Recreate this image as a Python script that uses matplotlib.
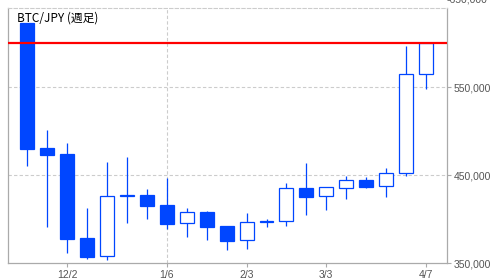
import matplotlib
matplotlib.use("Agg")
import matplotlib.pyplot as plt
from matplotlib.transforms import blended_transform_factory

# weekly BTC/JPY candles
opens  = [622700, 481000, 474500, 378700, 358000, 426500, 427600, 416300, 395500, 408600, 392400,
          376500, 398400, 397700, 435200, 426100, 435200, 444300, 437500, 452300, 564800]
highs  = [622700, 501500, 486700, 412800, 464800, 470500, 434400, 446900, 412500, 409400, 392400,
          407200, 400300, 441300, 464000, 436400, 449200, 448100, 458600, 596900, 600500]
lows   = [460900, 391600, 362000, 355200, 354100, 396100, 400300, 389000, 379900, 376800, 365500,
          366600, 391600, 392700, 405200, 410900, 423100, 435900, 425700, 448900, 548400]
closes = [480200, 473400, 378000, 357500, 426800, 427000, 415500, 395000, 408300, 391600, 375700,
          396900, 396600, 435200, 425700, 436400, 444300, 437000, 452300, 564800, 600500]

tick_pos    = [2, 7, 11, 15, 20]
tick_labels = ["12/2", "1/6", "2/3", "3/3", "4/7"]
price_ticks = [350000, 450000, 550000]
last_price  = 600500

blue = "#0046ff"
grey = "#aaaaaa"

fig = plt.figure(figsize=(4.96, 2.79), dpi=100)
ax = fig.add_axes([8/496, 1 - 263.3/279, 438.7/496, 255.3/279])

x = list(range(len(opens)))

# wicks
ax.vlines(x, lows, highs, color=blue, lw=0.9, zorder=2)

# bodies: filled = down week, hollow = up week
for i in x:
    o, c = opens[i], closes[i]
    down = c < o
    ax.bar(i, abs(c - o), bottom=min(o, c), width=0.7,
           facecolor=blue if down else "white", edgecolor=blue, lw=0.9, zorder=3)

ax.axhline(last_price, color="red", lw=1.6, zorder=4)

ax.set_xlim(-0.97, 21.04)
ax.set_ylim(350000, 639800)

# only the year break gets a vertical line
ax.axvline(7, color="#cccccc", lw=0.8, ls=(0, (3, 2)), zorder=1)
for p in price_ticks[1:]:
    ax.axhline(p, color="#cccccc", lw=0.8, ls=(0, (3, 2)), zorder=1)

ax.set_xticks(tick_pos)
ax.set_xticklabels(tick_labels)
ax.yaxis.tick_right()
ax.set_yticks(price_ticks)
ax.set_yticklabels([f"{p:,}" for p in price_ticks])
ax.tick_params(axis="both", colors=grey, labelcolor="#555555", length=3, width=0.8,
               labelsize=7.5, pad=2)
for lab in ax.get_xticklabels() + ax.get_yticklabels():
    lab.set_family("Liberation Sans")

# top label sits just outside the plot area
tr = blended_transform_factory(ax.transAxes, ax.transData)
ax.text(1.0, 650000, "-650,000", transform=tr, ha="left", va="center", clip_on=False,
        fontsize=7.5, color="#555555", family="Liberation Sans")

for s in ["left", "right", "bottom"]:
    ax.spines[s].set_color(grey)
    ax.spines[s].set_linewidth(0.9)
ax.spines["top"].set_color("#cccccc")
ax.spines["top"].set_linestyle((0, (3, 2)))
ax.spines["top"].set_linewidth(0.8)

ax.text(0.02, 0.985, "BTC/JPY (週足)", transform=ax.transAxes, ha="left", va="top",
        fontsize=8.5, color="black", family=["Noto Sans CJK JP", "DejaVu Sans"], zorder=5)

fig.savefig("out.png", dpi=100)
